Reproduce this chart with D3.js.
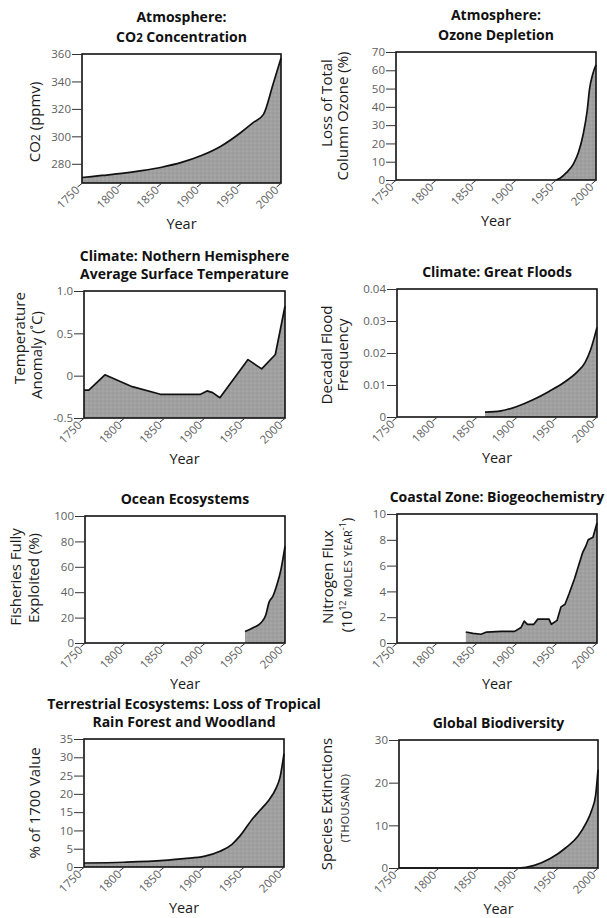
<!DOCTYPE html>
<html>
<head>
<meta charset="utf-8">
<script src="https://cdn.jsdelivr.net/npm/d3@7"></script>
<style>
  body { margin: 0; background: #fff; }
  svg { display: block; font-family: "Open Sans", sans-serif; }
  .tick text { fill: #606060; font-size: 11.5px; font-family: "Open Sans", sans-serif; }
  .tick line { stroke: #333; stroke-width: 1; }
  .title { font-weight: 700; font-size: 14px; fill: #111; }
  .axis-label { font-size: 15px; fill: #1a1a1a; }
  .year-label { font-size: 14.5px; fill: #1a1a1a; }
</style>
</head>
<body>
<svg id="chart" width="607" height="918"></svg>
<script>
// ---------------  DATA  ---------------
const xTickYears = [1750, 1800, 1850, 1900, 1950, 2000];

// Atmosphere: CO2
const co2Years  = [1750, 1775, 1800, 1825, 1850, 1875, 1900, 1925, 1950, 1965, 1978, 1990, 2000];
const co2Values = [270, 271.5, 273, 275, 277.5, 281, 286, 293, 303, 310, 316, 338, 357];
const co2Ticks  = [280, 300, 320, 340, 360];
const co2TickLabels = ["280", "300", "320", "340", "360"];

// Atmosphere: ozone
const ozoneYears  = [1950, 1955, 1963, 1972, 1978, 1984, 1989, 1992, 1996, 2000];
const ozoneValues = [0, 1, 4, 9, 15, 25, 38, 50, 58, 63];
const ozoneTicks  = [0, 10, 20, 30, 40, 50, 60, 70];
const ozoneTickLabels = ["0", "10", "20", "30", "40", "50", "60", "70"];

// Climate: temperature anomaly
const tempYears  = [1750, 1756, 1776, 1810, 1845, 1895, 1903, 1910, 1919, 1954, 1971, 1988, 2000];
const tempValues = [-0.17, -0.17, 0.01, -0.13, -0.22, -0.22, -0.18, -0.2, -0.26, 0.19, 0.08, 0.25, 0.82];
const tempTicks  = [-0.5, 0, 0.5, 1.0];
const tempTickLabels = ["-0.5", "0", "0.5", "1.0"];

// Climate: great floods
const floodYears  = [1860, 1880, 1900, 1920, 1940, 1960, 1975, 1985, 1992, 2000];
const floodValues = [0.0015, 0.0019, 0.0033, 0.0054, 0.008, 0.011, 0.014, 0.017, 0.021, 0.028];
const floodTicks  = [0, 0.01, 0.02, 0.03, 0.04];
const floodTickLabels = ["0", "0.01", "0.02", "0.03", "0.04"];

// Ocean ecosystems
const fishYears  = [1950, 1960, 1970, 1976, 1980, 1985, 1990, 1995, 2000];
const fishValues = [9, 12, 16, 22, 32, 37, 46, 58, 76];
const fishTicks  = [0, 20, 40, 60, 80, 100];
const fishTickLabels = ["0", "20", "40", "60", "80", "100"];

// Coastal zone: nitrogen flux
const nitroYears  = [1836, 1845, 1855, 1862, 1880, 1897, 1905, 1909, 1913, 1921, 1926, 1940, 1943, 1950, 1955, 1960, 1965, 1972, 1977, 1982, 1986, 1989, 1995, 2000];
const nitroValues = [0.85, 0.75, 0.68, 0.85, 0.9, 0.9, 1.2, 1.7, 1.45, 1.45, 1.85, 1.85, 1.45, 1.75, 2.8, 3.0, 3.8, 5.0, 6.0, 7.0, 7.5, 8.0, 8.2, 9.3];
const nitroTicks  = [0, 2, 4, 6, 8, 10];
const nitroTickLabels = ["0", "2", "4", "6", "8", "10"];

// Terrestrial ecosystems: forest loss
const forestYears  = [1750, 1800, 1850, 1875, 1900, 1920, 1935, 1945, 1960, 1970, 1980, 1990, 1995, 2000];
const forestValues = [1.1, 1.3, 1.8, 2.3, 2.9, 4.3, 6.2, 8.5, 13, 15.5, 18, 21.5, 24.5, 31];
const forestTicks  = [0, 5, 10, 15, 20, 25, 30, 35];
const forestTickLabels = ["0", "5", "10", "15", "20", "25", "30", "35"];

// Global biodiversity
const extYears  = [1750, 1900, 1920, 1940, 1960, 1975, 1985, 1992, 1997, 2000];
const extValues = [0, 0, 0.6, 2.2, 4.8, 7.5, 10.5, 13.5, 17, 23];
const extTicks  = [0, 10, 20, 30];
const extTickLabels = ["0", "10", "20", "30"];

// ---------------  PANEL LAYOUT  ---------------
// text parts: [string, kind]  kind: "sub" | "sup" | "sc" | undefined
const panels = [
  { xs: co2Years, ys: co2Values, dom: [266, 360], ticks: co2Ticks, tickLabels: co2TickLabels,
    box: [82, 54, 281, 183], smooth: true, gap: 20,
    title: [[["Atmosphere:"]], [["CO"], ["2", "sub"], [" Concentration"]]],
    ylab: [{ at: [35, 122], parts: [["CO"], ["2", "sub"], [" (ppmv)"]] }] },
  { xs: ozoneYears, ys: ozoneValues, dom: [0, 70], ticks: ozoneTicks, tickLabels: ozoneTickLabels,
    box: [396, 52, 596, 180], smooth: true, gap: 20,
    title: [[["Atmosphere:"]], [["Ozone Depletion"]]],
    ylab: [{ at: [327, 103], parts: [["Loss of Total"]] },
           { at: [343, 116], parts: [["Column Ozone (%)"]] }] },
  { xs: tempYears, ys: tempValues, dom: [-0.5, 1.0], ticks: tempTicks, tickLabels: tempTickLabels,
    box: [84, 291, 285, 418], smooth: false, gap: 18,
    title: [[["Climate: Nothern Hemisphere"]], [["Average Surface Temperature"]]],
    ylab: [{ at: [20, 338], parts: [["Temperature"]] },
           { at: [37, 355], parts: [["Anomaly (˚C)"]] }] },
  { xs: floodYears, ys: floodValues, dom: [0, 0.04], ticks: floodTicks, tickLabels: floodTickLabels,
    box: [397, 289, 597, 417], smooth: true, gap: 18,
    title: [[["Climate: Great Floods"]]],
    ylab: [{ at: [327, 355], parts: [["Decadal Flood"]] },
           { at: [343, 355], parts: [["Frequency"]] }] },
  { xs: fishYears, ys: fishValues, dom: [0, 100], ticks: fishTicks, tickLabels: fishTickLabels,
    box: [85, 516, 285, 643], smooth: true, gap: 18,
    title: [[["Ocean Ecosystems"]]],
    ylab: [{ at: [16, 577], parts: [["Fisheries Fully"]] },
           { at: [34, 578], parts: [["Exploited (%)"]] }] },
  { xs: nitroYears, ys: nitroValues, dom: [0, 10], ticks: nitroTicks, tickLabels: nitroTickLabels,
    box: [397, 514, 597, 643], smooth: false, gap: 18,
    title: [[["Coastal Zone: Biogeochemistry"]]],
    ylab: [{ at: [328, 577], parts: [["Nitrogen Flux"]] },
           { at: [347, 575], parts: [["(10"], ["12", "sup"], ["  MOLES YEAR", "sc"], ["-1", "sup"], [")"]] }] },
  { xs: forestYears, ys: forestValues, dom: [0, 35], ticks: forestTicks, tickLabels: forestTickLabels,
    box: [84, 739, 284, 867], smooth: true, gap: 18,
    title: [[["Terrestrial Ecosystems: Loss of Tropical"]], [["Rain Forest and Woodland"]]],
    ylab: [{ at: [35, 803], parts: [["% of 1700 Value"]] }] },
  { xs: extYears, ys: extValues, dom: [0, 30], ticks: extTicks, tickLabels: extTickLabels,
    box: [399, 740, 598, 868], smooth: true, gap: 18,
    title: [[["Global Biodiversity"]]],
    ylab: [{ at: [327, 804], parts: [["Species Extinctions"]] },
           { at: [344, 808], parts: [["(THOUSAND)", "sc"]] }] }
];

// ---------------  SVG  ---------------
const svg = d3.select("#chart");

// stippled grey fill
const pat = svg.append("defs").append("pattern")
  .attr("id", "stipple").attr("patternUnits", "userSpaceOnUse")
  .attr("width", 4).attr("height", 4);
pat.append("rect").attr("width", 4).attr("height", 4).attr("fill", "#a0a0a0");
pat.append("circle").attr("cx", 1).attr("cy", 1).attr("r", 0.6).attr("fill", "#858585");
pat.append("circle").attr("cx", 3).attr("cy", 3).attr("r", 0.6).attr("fill", "#b8b8b8");

function addParts(text, parts) {
  parts.forEach(([s, kind]) => {
    const t = text.append("tspan").text(s);
    if (kind === "sub") t.style("font-size", "0.82em");
    if (kind === "sup") t.style("font-size", "0.6em").attr("baseline-shift", "super");
    if (kind === "sc") t.style("font-size", "0.72em").style("letter-spacing", "0.03em");
  });
}

panels.forEach(p => {
  const [x0, y0, x1, y1] = p.box;
  const xScale = d3.scaleLinear().domain([1750, 2000]).range([x0, x1]);
  const yScale = d3.scaleLinear().domain(p.dom).range([y1, y0]);
  const curve = p.smooth ? d3.curveMonotoneX : d3.curveLinear;
  const pts = p.xs.map((d, i) => [d, p.ys[i]]);
  const g = svg.append("g");

  g.append("path").datum(pts)
    .attr("d", d3.area().x(d => xScale(d[0])).y0(y1).y1(d => yScale(d[1])).curve(curve))
    .attr("fill", "url(#stipple)");
  g.append("path").datum(pts)
    .attr("d", d3.line().x(d => xScale(d[0])).y(d => yScale(d[1])).curve(curve))
    .attr("fill", "none").attr("stroke", "#111").attr("stroke-width", 1.7)
    .attr("stroke-linejoin", "round");

  g.append("rect") // plot frame
    .attr("x", x0).attr("y", y0).attr("width", x1 - x0).attr("height", y1 - y0)
    .attr("fill", "none").attr("stroke", "#111").attr("stroke-width", 1.6);

  // y axis
  const gy = g.append("g").attr("transform", "translate(" + x0 + ",0)")
    .call(d3.axisLeft(yScale).tickValues(p.ticks)
      .tickFormat((d, i) => p.tickLabels[i]).tickSize(10).tickPadding(1));
  gy.select(".domain").remove();

  // x axis, rotated labels
  const gx = g.append("g").attr("transform", "translate(0," + y1 + ")")
    .call(d3.axisBottom(xScale).tickValues(xTickYears).tickFormat(d3.format("d")).tickSize(0));
  gx.select(".domain").remove();
  gx.selectAll(".tick line").attr("x2", -5).attr("y2", 4);
  gx.selectAll(".tick text")
    .attr("x", 0).attr("y", 0).attr("dy", "0.35em")
    .attr("text-anchor", "end")
    .attr("transform", "translate(-5,5) rotate(-45)");

  // x label
  g.append("text").attr("class", "year-label")
    .attr("x", (x0 + x1) / 2).attr("y", y1 + 46)
    .attr("text-anchor", "middle").text("Year");

  // y label lines
  p.ylab.forEach(l => {
    const t = g.append("text").attr("class", "axis-label")
      .attr("text-anchor", "middle").attr("dy", "0.35em")
      .attr("transform", "translate(" + l.at[0] + "," + l.at[1] + ") rotate(-90)");
    addParts(t, l.parts);
  });

  // title lines
  const n = p.title.length;
  p.title.forEach((line, i) => {
    const t = g.append("text").attr("class", "title")
      .attr("x", (x0 + x1) / 2)
      .attr("y", y0 - 12 - (n - 1 - i) * p.gap)
      .attr("text-anchor", "middle");
    addParts(t, line);
  });
});
</script>
</body>
</html>
